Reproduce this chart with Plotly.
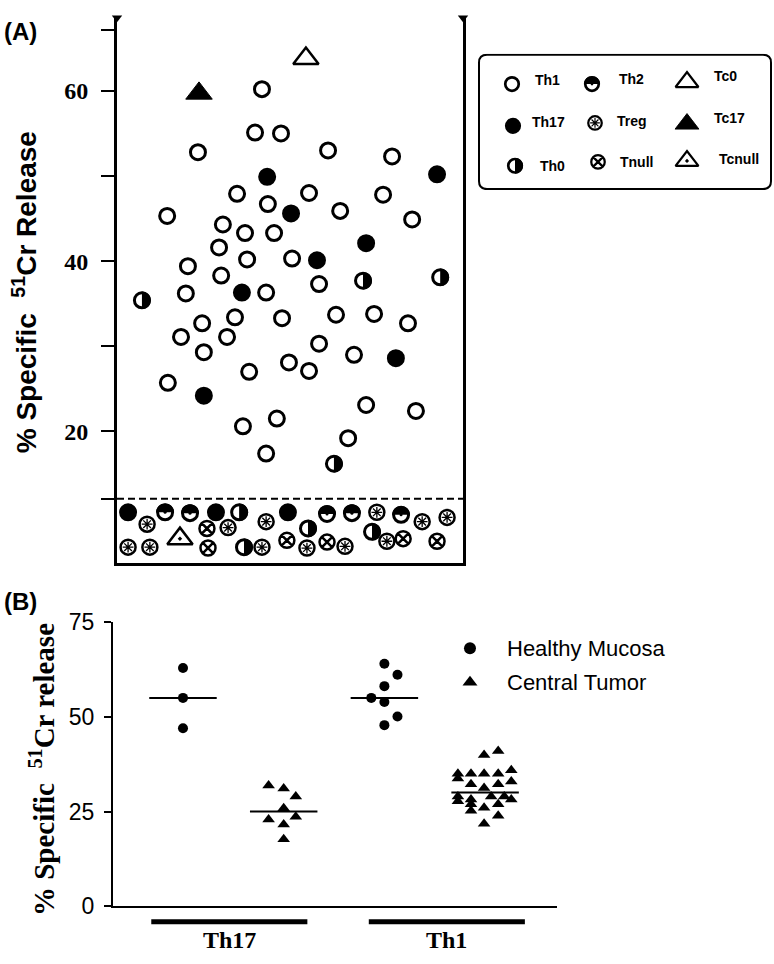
import plotly.graph_objects as go

# ---------------- Panel A data ----------------
# x: horizontal scatter position inside the box (0-100), y: % specific 51Cr release
TH1_X = [41.9, 39.9, 47.4, 23.4, 61.0, 79.5, 34.7, 55.5, 76.9, 43.6, 64.5, 14.5, 85.3, 30.6, 37.0,
         45.4, 29.5, 20.5, 37.6, 50.6, 30.1, 58.4, 19.9, 43.1, 24.6, 34.1, 47.7, 63.3, 74.3, 84.1,
         18.5, 31.8, 25.1, 58.4, 68.5, 49.7, 55.5, 38.2, 14.7, 72.0, 86.4, 46.2, 36.4, 66.8, 43.1]
TH1_Y = [60.2, 55.1, 55.0, 52.8, 53.0, 52.3, 47.9, 48.0, 47.8, 46.7, 45.9, 45.3, 44.9, 44.3, 43.3,
         43.3, 41.6, 39.4, 40.2, 40.3, 38.3, 37.3, 36.2, 36.3, 32.7, 33.4, 33.3, 33.7, 33.8, 32.7,
         31.1, 31.1, 29.3, 30.3, 29.0, 28.1, 27.1, 27.0, 25.7, 23.1, 22.4, 21.5, 20.6, 19.2, 17.4]
TH17_X = [43.4, 50.3, 92.5, 72.0, 57.8, 36.1, 25.1, 80.6, 3.2, 28.6, 49.4]
TH17_Y = [49.9, 45.6, 50.2, 42.1, 40.1, 36.3, 24.2, 28.6, 10.5, 10.5, 10.5]
TH0_X = [71.1, 93.4, 7.2, 62.7, 35.3, 55.2, 73.7, 36.7]
TH0_Y = [37.7, 38.1, 35.4, 16.2, 10.5, 8.6, 8.2, 6.4]
TH2_X = [13.9, 21.1, 60.7, 67.9, 82.1]
TH2_Y = [10.5, 10.4, 10.3, 10.4, 10.2]
TREG_X = [8.7, 3.2, 9.5, 32.1, 43.1, 75.1, 41.9, 54.9, 65.9, 78.0, 88.2, 95.4]
TREG_Y = [9.1, 6.4, 6.4, 8.7, 9.4, 10.5, 6.4, 6.3, 6.5, 7.1, 9.4, 9.9]
TNULL_X = [26.0, 26.3, 49.1, 60.7, 82.7, 92.5]
TNULL_Y = [8.6, 6.3, 7.2, 7.0, 7.4, 7.1]
TC0_X, TC0_Y = [54.6], [63.8]
TC17_X, TC17_Y = [23.7], [59.7]
TCNULL_X, TCNULL_Y = [18.2], [7.4]
THRESHOLD = 12.1
A_TICKS = [20, 40, 60]
A_MINOR_TICKS = [12.1, 30, 50, 67.2]
LEGEND_A = ["Th1", "Th2", "Tc0", "Th17", "Treg", "Tc17", "Th0", "Tnull", "Tcnull"]

# ---------------- Panel B data ----------------
B_GROUPS = ["Th17", "Th1"]
B_SERIES = ["Healthy Mucosa", "Central Tumor"]
TH17_HM = [62.9, 55.0, 47.0]
TH17_HM_JIT = [0, 0, 0]
TH17_CT = [31.9, 31.1, 29.0, 25.9, 22.9, 23.6, 21.6, 17.7]
TH17_CT_JIT = [-0.15, 0, 0.12, 0, -0.15, 0.12, 0, 0]
TH1_HM = [64.0, 61.1, 58.1, 55.0, 53.9, 50.1, 47.8]
TH1_HM_JIT = [0, 0.13, 0, -0.13, 0, 0.13, 0]
TH1_CT = [39.9, 41.0, 35.0, 35.0, 35.0, 35.0, 35.9, 33.7, 32.2, 32.2, 32.9, 31.2,
          29.0, 27.7, 29.0, 29.0, 28.2, 28.2, 26.9, 25.2, 26.0, 26.9, 23.9, 21.8]
TH1_CT_JIT = [-0.01, 0.13, -0.27, -0.14, -0.01, 0.13, 0.26, -0.27, -0.14, 0.13, 0.26, -0.01,
              -0.27, -0.27, 0.06, 0.19, 0.26, -0.14, -0.14, -0.14, -0.01, 0.13, 0.13, -0.01]
MEDIANS = [55, 25, 55, 30]

W, H = 774, 964
BLK = "black"
SERIF = "Liberation Serif"
SANS = "Liberation Sans"

# panel geometry (pixels) and ranges
A_X0, A_X1, A_Y0, A_Y1 = 117, 463, 5, 565
A_XR = [0, 100]
A_YR = [4.57, 68.57]
L_X0, L_X1, L_Y0, L_Y1 = 478, 772, 42, 182
B_X0, B_X1, B_Y0, B_Y1 = 113, 557, 626, 918
B_XR = [0.305, 4.714]
B_YR = [0, 75]

fig = go.Figure()
shapes = []

AXIS_SCALE = {  # px per data unit (x, y) for each axis pair
    ("x", "y"): ((A_X1 - A_X0) / (A_XR[1] - A_XR[0]), (A_Y1 - A_Y0) / (A_YR[1] - A_YR[0])),
    ("x3", "y3"): (1.0, -1.0),
}


def half_disc(cx, cy, rpx, xa, ya, side):
    sx, sy = AXIS_SCALE[(xa, ya)]
    rx, ry = rpx / sx, rpx / sy
    k = 0.5523
    if side == "right":
        p = (f"M {cx},{cy + ry} C {cx + k * rx},{cy + ry} {cx + rx},{cy + k * ry} {cx + rx},{cy} "
             f"C {cx + rx},{cy - k * ry} {cx + k * rx},{cy - ry} {cx},{cy - ry} Z")
    else:  # upper
        p = (f"M {cx - rx},{cy} C {cx - rx},{cy + k * ry} {cx - k * rx},{cy + ry} {cx},{cy + ry} "
             f"C {cx + k * rx},{cy + ry} {cx + rx},{cy + k * ry} {cx + rx},{cy} Z")
    shapes.append(dict(type="path", xref=xa, yref=ya, path=p, fillcolor=BLK,
                       line=dict(width=0), layer="above"))


def add_marker_set(xs, ys, kind, xa="x", ya="y", scale=1.0):
    """Draw one cell-type symbol at each (x, y)."""
    def mk(symbol, size, color, lw, lc=BLK):
        fig.add_trace(go.Scatter(x=xs, y=ys, mode="markers", xaxis=xa, yaxis=ya,
                                 showlegend=False, hoverinfo="skip", cliponaxis=False,
                                 marker=dict(symbol=symbol, size=size * scale, color=color,
                                             line=dict(color=lc, width=lw * scale))))
    if kind == "Th1":
        mk("circle", 15, "white", 3)
    elif kind == "Th17":
        mk("circle", 16, BLK, 2)
    elif kind == "Th0":
        mk("circle", 15, "white", 3)
        for x_, y_ in zip(xs, ys):
            half_disc(x_, y_, 9 * scale, xa, ya, "right")
    elif kind == "Th2":
        mk("circle", 15, "white", 3)
        mk("circle", 3, BLK, 0)
        for x_, y_ in zip(xs, ys):
            half_disc(x_, y_, 9 * scale, xa, ya, "upper")
    elif kind == "Treg":
        mk("circle", 15, "white", 2.5)
        mk("asterisk-open", 9, BLK, 1.3)
    elif kind == "Tnull":
        mk("circle-x", 15, "white", 2.5)
    elif kind == "Tc0":
        mk("triangle-up", 22, "white", 2.5)
    elif kind == "Tc17":
        mk("triangle-up", 23, BLK, 1)
    elif kind == "Tcnull":
        mk("triangle-up-dot", 22, "white", 2.5)


# threshold dashed line
fig.add_trace(go.Scatter(x=A_XR, y=[THRESHOLD, THRESHOLD], mode="lines", showlegend=False,
                         hoverinfo="skip", line=dict(color=BLK, width=2, dash="7px,4px")))

for xs, ys, k in [(TH1_X, TH1_Y, "Th1"), (TH17_X, TH17_Y, "Th17"), (TH0_X, TH0_Y, "Th0"),
                  (TH2_X, TH2_Y, "Th2"), (TREG_X, TREG_Y, "Treg"), (TNULL_X, TNULL_Y, "Tnull"),
                  (TC0_X, TC0_Y, "Tc0"), (TC17_X, TC17_Y, "Tc17"), (TCNULL_X, TCNULL_Y, "Tcnull")]:
    add_marker_set(xs, ys, k)

# small caps at the top of the two vertical box lines
fig.add_trace(go.Scatter(x=A_XR, y=[A_YR[1], A_YR[1]], mode="markers", showlegend=False,
                         hoverinfo="skip", cliponaxis=False,
                         marker=dict(symbol="triangle-down", size=9, color=BLK)))

# ---------------- Legend A (own axes, pixel units) ----------------
LEG_POS = [(512, 73), (592, 73), (687, 71), (513, 116), (595, 113), (687, 114),
           (515, 157), (598, 153), (687, 152)]
LEG_TXT = [(533, 69), (617, 68), (712, 65), (530, 112), (615, 111), (712, 108),
           (538, 157), (618, 153), (717, 150)]
for name, (mx, my) in zip(LEGEND_A, LEG_POS):
    add_marker_set([mx], [my], name, xa="x3", ya="y3", scale=0.9)

# ---------------- Panel B ----------------
pos_groups = [1, 2, 3, 4]
b_vals = [TH17_HM, TH17_CT, TH1_HM, TH1_CT]
b_jit = [TH17_HM_JIT, TH17_CT_JIT, TH1_HM_JIT, TH1_CT_JIT]
b_sym = ["circle", "triangle-up", "circle", "triangle-up"]
for p, vals, jit, sym in zip(pos_groups, b_vals, b_jit, b_sym):
    fig.add_trace(go.Scatter(x=[p + j for j in jit], y=vals, mode="markers", xaxis="x2", yaxis="y2",
                             showlegend=False, hoverinfo="skip",
                             marker=dict(symbol=sym, size=10 if sym == "circle" else 11, color=BLK,
                                         line=dict(width=0))))
for p, m in zip(pos_groups, MEDIANS):
    fig.add_trace(go.Scatter(x=[p - 0.335, p + 0.335], y=[m, m], mode="lines", xaxis="x2", yaxis="y2",
                             showlegend=False, hoverinfo="skip", line=dict(color=BLK, width=2)))

# legend B
LEGB_X, LEGB_Y = 3.85, [68.1, 59.1]
for name, sym, ly in zip(B_SERIES, ["circle", "triangle-up"], LEGB_Y):
    fig.add_trace(go.Scatter(x=[LEGB_X], y=[ly], mode="markers", xaxis="x2", yaxis="y2",
                             showlegend=False, hoverinfo="skip", cliponaxis=False,
                             marker=dict(symbol=sym, size=12 if sym == "circle" else 13, color=BLK)))

annotations = []
for name, ly in zip(B_SERIES, LEGB_Y):
    annotations.append(dict(x=4.198, y=ly, xref="x2", yref="y2", text=name, showarrow=False,
                            xanchor="left", yanchor="middle",
                            font=dict(family=SANS, size=22, color=BLK)))

for name, (tx_, ty_) in zip(LEGEND_A, LEG_TXT):
    annotations.append(dict(x=tx_, y=ty_, xref="x3", yref="y3", text=name, showarrow=False,
                            xanchor="left", yanchor="middle",
                            font=dict(family=SANS, size=14, color=BLK, weight="bold")))

annotations += [
    dict(x=2 / W, y=1 - 19 / H, xref="paper", yref="paper", text="(A)", showarrow=False,
         xanchor="left", yanchor="middle", font=dict(family=SANS, size=24, color=BLK, weight="bold")),
    dict(x=2 / W, y=1 - 605 / H, xref="paper", yref="paper", text="(B)", showarrow=False,
         xanchor="left", yanchor="middle", font=dict(family=SANS, size=24, color=BLK, weight="bold")),
    dict(x=25 / W, y=1 - 287 / H, xref="paper", yref="paper", textangle=-90,
         text="% Specific  <sup>51</sup>Cr Release", showarrow=False,
         xanchor="center", yanchor="middle", font=dict(family=SANS, size=28, color=BLK, weight="bold")),
    dict(x=42 / W, y=1 - 778 / H, xref="paper", yref="paper", textangle=-90,
         text="% Specific  <sup>51</sup>Cr release", showarrow=False,
         xanchor="center", yanchor="middle", font=dict(family=SERIF, size=29, color=BLK, weight="bold")),
]

GROUP_SHIFT = [-0.04, 0.12]
for gi, (g, sh) in enumerate(zip(B_GROUPS, GROUP_SHIFT)):
    c = (pos_groups[2 * gi] + pos_groups[2 * gi + 1]) / 2 + sh
    shapes.append(dict(type="line", xref="x2", yref="paper", x0=c - 0.775, x1=c + 0.775,
                       y0=1 - 934 / H, y1=1 - 934 / H, line=dict(color=BLK, width=5)))
    annotations.append(dict(x=c, y=1 - 953 / H, xref="x2", yref="paper", text=g, showarrow=False,
                            xanchor="center", yanchor="middle",
                            font=dict(family=SERIF, size=24, color=BLK, weight="bold")))

# rounded legend box
shapes.append(dict(type="path", xref="x3", yref="y3", line=dict(color=BLK, width=2),
                   path="M 487,43 L 763,43 Q 771,43 771,51 L 771,173 Q 771,181 763,181 "
                        "L 487,181 Q 479,181 479,173 L 479,51 Q 479,43 487,43 Z"))

fig.update_layout(
    width=W, height=H, margin=dict(l=0, r=0, t=0, b=0),
    paper_bgcolor="white", plot_bgcolor="white", showlegend=False,
    annotations=annotations, shapes=shapes,
    xaxis=dict(domain=[A_X0 / W, A_X1 / W], range=A_XR, anchor="y", showline=True, linewidth=3,
               linecolor=BLK, showticklabels=False, ticks="", showgrid=False, zeroline=False),
    yaxis=dict(domain=[1 - A_Y1 / H, 1 - A_Y0 / H], range=A_YR, anchor="x", showline=True, linewidth=3,
               linecolor=BLK, mirror=True, ticks="outside", ticklen=13, tickwidth=2, tickcolor=BLK,
               tickvals=A_TICKS, ticklabelstandoff=8,
               minor=dict(tickvals=A_MINOR_TICKS, ticks="outside", ticklen=13, tickwidth=2,
                          tickcolor=BLK, showgrid=False),
               tickfont=dict(family=SERIF, size=24, color=BLK, weight="bold"),
               showgrid=False, zeroline=False),
    xaxis2=dict(domain=[B_X0 / W, B_X1 / W], range=B_XR, anchor="y2", showline=True,
                linewidth=2, linecolor=BLK, showticklabels=False, ticks="", showgrid=False,
                zeroline=False),
    yaxis2=dict(domain=[1 - B_Y1 / H, 1 - B_Y0 / H], range=B_YR, anchor="x2", showline=True,
                linewidth=2, linecolor=BLK, ticks="outside", ticklen=7, tickwidth=1.5, tickcolor=BLK,
                tickvals=[0, 25, 50, 75], ticklabelstandoff=5,
                tickfont=dict(family=SANS, size=23, color=BLK), showgrid=False, zeroline=False),
    xaxis3=dict(domain=[L_X0 / W, L_X1 / W], range=[L_X0, L_X1], anchor="y3", visible=False),
    yaxis3=dict(domain=[1 - L_Y1 / H, 1 - L_Y0 / H], range=[L_Y1, L_Y0], anchor="x3", visible=False),
)

fig.write_html("out.html", config={"displayModeBar": False},
               post_script="document.body.style.margin='0px';")
